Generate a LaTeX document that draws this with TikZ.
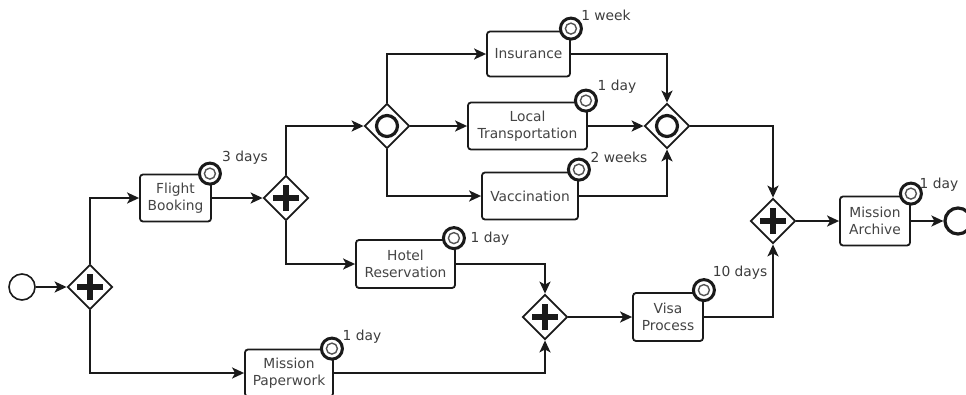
\documentclass[tikz,border=0pt]{standalone}
\usepackage{fontspec}
\setmainfont{DejaVu Sans}
\usetikzlibrary{shapes.geometric,arrows.meta,calc}
\definecolor{ink}{HTML}{1A1A1A}
\definecolor{txt}{HTML}{444444}
\begin{document}
\begin{tikzpicture}[x=1pt,y=-1pt,
  task/.style={draw=ink,line width=1.8pt,rounded corners=3pt,fill=white,align=center,
    inner sep=0pt,font=\fontsize{13.8}{17}\selectfont,text=txt},
  gw/.style={diamond,aspect=1,draw=ink,line width=1.8pt,fill=white,minimum width=45pt,minimum height=45pt,inner sep=0pt},
  pgw/.style={gw,path picture={
      \fill[ink] ($(path picture bounding box.center)+(-13,-3)$) rectangle ($(path picture bounding box.center)+(13,3)$);
      \fill[ink] ($(path picture bounding box.center)+(-3,-13)$) rectangle ($(path picture bounding box.center)+(3,13)$);}},
  igw/.style={gw,path picture={
      \draw[ink,line width=3.2pt] (path picture bounding box.center) circle[radius=10.5];}},
  timer/.style={circle,draw=ink,line width=3pt,fill=white,minimum size=21pt,inner sep=0pt,
    path picture={\draw[ink!75,line width=1.4pt] (path picture bounding box.center) circle[radius=5.5];}},
  dur/.style={font=\fontsize{13.8}{15}\selectfont,text=ink!85,inner sep=0pt},
  flow/.style={draw=ink,line width=2pt,-{Stealth[length=12pt,width=11pt,inset=3pt]}},
  ev/.style={circle,draw=ink,fill=white,minimum size=26pt,inner sep=0pt}
]
\useasboundingbox (0,0) rectangle (966,394);

% events
\node[ev,line width=1.6pt] (start) at (22,287) {};
\node[ev,line width=3.2pt] (end) at (958,221) {};

% gateways
\node[pgw] (g1) at (90,287) {};
\node[pgw] (g2) at (286,198) {};
\node[igw] (ig1) at (387,126) {};
\node[igw] (ig2) at (667,126) {};
\node[pgw] (g3) at (545,317) {};
\node[pgw] (g4) at (773,221) {};

% tasks
\node[task,minimum width=71pt,minimum height=47pt] (fb) at (175.5,198) {Flight\\Booking};
\node[task,minimum width=88pt,minimum height=47pt] (mp) at (289,373) {Mission\\Paperwork};
\node[task,minimum width=83pt,minimum height=45pt] (ins) at (528.5,54) {Insurance};
\node[task,minimum width=119pt,minimum height=47pt] (lt) at (527.5,126) {Local\\Transportation};
\node[task,minimum width=96pt,minimum height=47pt] (vac) at (530,196) {Vaccination};
\node[task,minimum width=99pt,minimum height=48pt] (hr) at (405.5,264) {Hotel\\Reservation};
\node[task,minimum width=70pt,minimum height=48pt] (vp) at (668,317) {Visa\\Process};
\node[task,minimum width=70pt,minimum height=49pt] (ma) at (875,221) {Mission\\Archive};

% flows
\draw[flow] (start) -- (g1);
\draw[flow] (g1.north) |- (fb.west);
\draw[flow] (g1.south) |- (mp.west);
\draw[flow] (fb.east) -- (g2.west);
\draw[flow] (g2.north) |- (ig1.west);
\draw[flow] (g2.south) |- (hr.west);
\draw[flow] (ig1.north) |- (ins.west);
\draw[flow] (ig1.east) -- (lt.west);
\draw[flow] (ig1.south) |- (vac.west);
\draw[flow] (ins.east) -| (ig2.north);
\draw[flow] (lt.east) -- (ig2.west);
\draw[flow] (vac.east) -| (ig2.south);
\draw[flow] (ig2.east) -| (g4.north);
\draw[flow] (hr.east) -| (g3.north);
\draw[flow] (mp.east) -| (g3.south);
\draw[flow] (g3.east) -- (vp.west);
\draw[flow] (vp.east) -| (g4.south);
\draw[flow] (g4.east) -- (ma.west);
\draw[flow] (ma.east) -- (end.west);

% timers
\node[timer] (tfb) at ($(fb.north east)+(-2,0)$) {};
\node[timer] (tmp) at ($(mp.north east)+(-2,0)$) {};
\node[timer] (tins) at ($(ins.north east)+(0,-2)$) {};
\node[timer] (tlt) at ($(lt.north east)+(-2,-1)$) {};
\node[timer] (tvac) at ($(vac.north east)+(0,-2)$) {};
\node[timer] (thr) at ($(hr.north east)+(-2,-1)$) {};
\node[timer] (tvp) at ($(vp.north east)+(0,-2)$) {};
\node[timer] (tma) at ($(ma.north east)+(0,-2)$) {};

% durations
\node[dur] (dfb) at (245,158) {3 days};
\node[dur] (dmp) at (362,337) {1 day};
\node[dur] (dins) at (606,15) {1 week};
\node[dur] (dlt) at (617,87) {1 day};
\node[dur] (dvac) at (619,157) {2 weeks};
\node[dur] (dhr) at (490,239) {1 day};
\node[dur] (dvp) at (740,273) {10 days};
\node[dur] (dma) at (939,185) {1 day};
\end{tikzpicture}
\end{document}
